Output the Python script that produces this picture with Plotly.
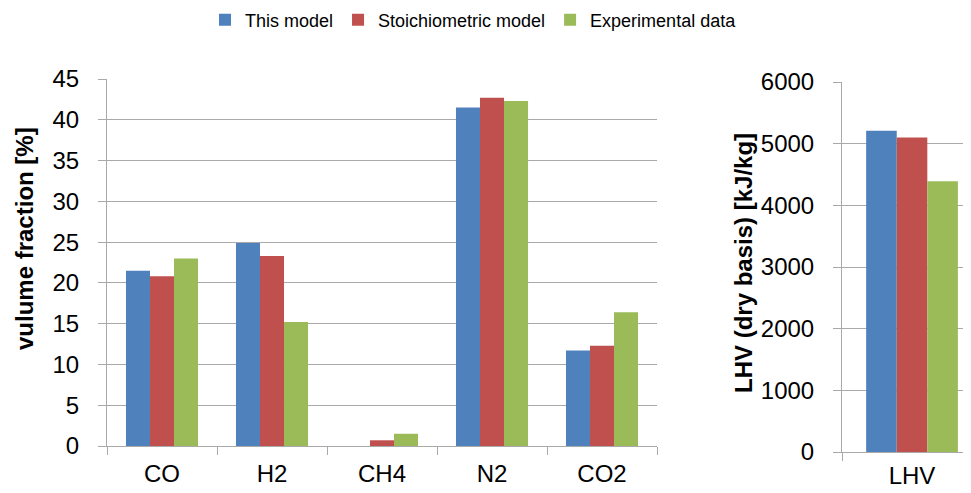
import plotly.graph_objects as go

categories = ["CO", "H2", "CH4", "N2", "CO2"]
this_model = [21.5, 24.9, 0.0, 41.5, 11.7]
stoich_model = [20.8, 23.3, 0.7, 42.7, 12.3]
experimental = [23.0, 15.2, 1.5, 42.3, 16.4]

lhv_cat = ["LHV"]
lhv_this = [5210]
lhv_stoich = [5100]
lhv_exp = [4390]

series_names = ["This model", "Stoichiometric model", "Experimental data"]
colors = ["#4F81BD", "#C0504D", "#9BBB59"]

OFF = 8  # page body margin
W, H = 971 - OFF, 493 - OFF
FONT = "Liberation Sans, Arial, sans-serif"
GRID = "#a9a9a9"

fig = go.Figure()
for name, vals, col in zip(series_names, [this_model, stoich_model, experimental], colors):
    fig.add_trace(go.Bar(x=categories, y=vals, name=name, marker=dict(color=col, line=dict(width=0)),
                         xaxis="x", yaxis="y"))
for name, vals, col in zip(series_names, [lhv_this, lhv_stoich, lhv_exp], colors):
    fig.add_trace(go.Bar(x=lhv_cat, y=vals, name=name, marker=dict(color=col, line=dict(width=0)),
                         xaxis="x2", yaxis="y2", showlegend=False))

def px_x(p):
    return (p - OFF) / W

def px_y(p):
    return (H - (p - OFF)) / H

tickfont = dict(family=FONT, size=24, color="#000000")
fig.update_layout(
    template="none",
    width=W, height=H,
    margin=dict(l=0, r=0, t=0, b=0, autoexpand=False),
    paper_bgcolor="white", plot_bgcolor="white",
    barmode="group", bargap=0.345, bargroupgap=0,
    font=dict(family=FONT, color="#000000"),
    xaxis=dict(domain=[px_x(107), px_x(657)], anchor="y", type="category", automargin=False,
               showline=True, linecolor=GRID, linewidth=1,
               ticks="outside", tickson="boundaries", ticklen=8, tickcolor=GRID,
               showgrid=False, tickfont=tickfont, ticklabelstandoff=6),
    yaxis=dict(domain=[px_y(446), px_y(79)], anchor="x", range=[0, 45], dtick=5, automargin=False,
               showline=True, linecolor=GRID, linewidth=1,
               ticks="outside", ticklen=8, tickcolor=GRID,
               showgrid=True, gridcolor=GRID, gridwidth=1, zeroline=False,
               tickfont=tickfont, ticklabelstandoff=14),
    xaxis2=dict(domain=[px_x(842), 1.0], anchor="y2", type="category", range=[-0.5, 0.421], automargin=False,
                showline=True, linecolor=GRID, linewidth=1,
                ticks="outside", tickson="boundaries", ticklen=8, tickcolor=GRID,
                showgrid=False, tickfont=tickfont, ticklabelstandoff=2),
    yaxis2=dict(domain=[px_y(452), px_y(82)], anchor="x2", range=[0, 6000], dtick=1000, automargin=False,
                showline=True, linecolor=GRID, linewidth=1,
                ticks="outside", ticklen=8, tickcolor=GRID,
                showgrid=True, gridcolor=GRID, gridwidth=1, zeroline=False,
                tickfont=tickfont, ticklabelstandoff=14),
    legend=dict(orientation="h", x=px_x(205), xanchor="left", y=px_y(20), yanchor="middle",
                font=dict(family=FONT, size=18, color="#000000"), bgcolor="rgba(0,0,0,0)",
                traceorder="normal"),
    annotations=[
        dict(text="<b>vulume fraction [%]</b>", x=px_x(24), y=px_y(239), xref="paper", yref="paper",
             textangle=-90, showarrow=False, font=dict(family=FONT, size=24, color="#000000"),
             xanchor="center", yanchor="middle"),
        dict(text="<b>LHV (dry basis) [kJ/kg]</b>", x=px_x(743), y=px_y(263), xref="paper", yref="paper",
             textangle=-90, showarrow=False, font=dict(family=FONT, size=24, color="#000000"),
             xanchor="center", yanchor="middle"),
    ],
)

fig.write_html("out.html")
